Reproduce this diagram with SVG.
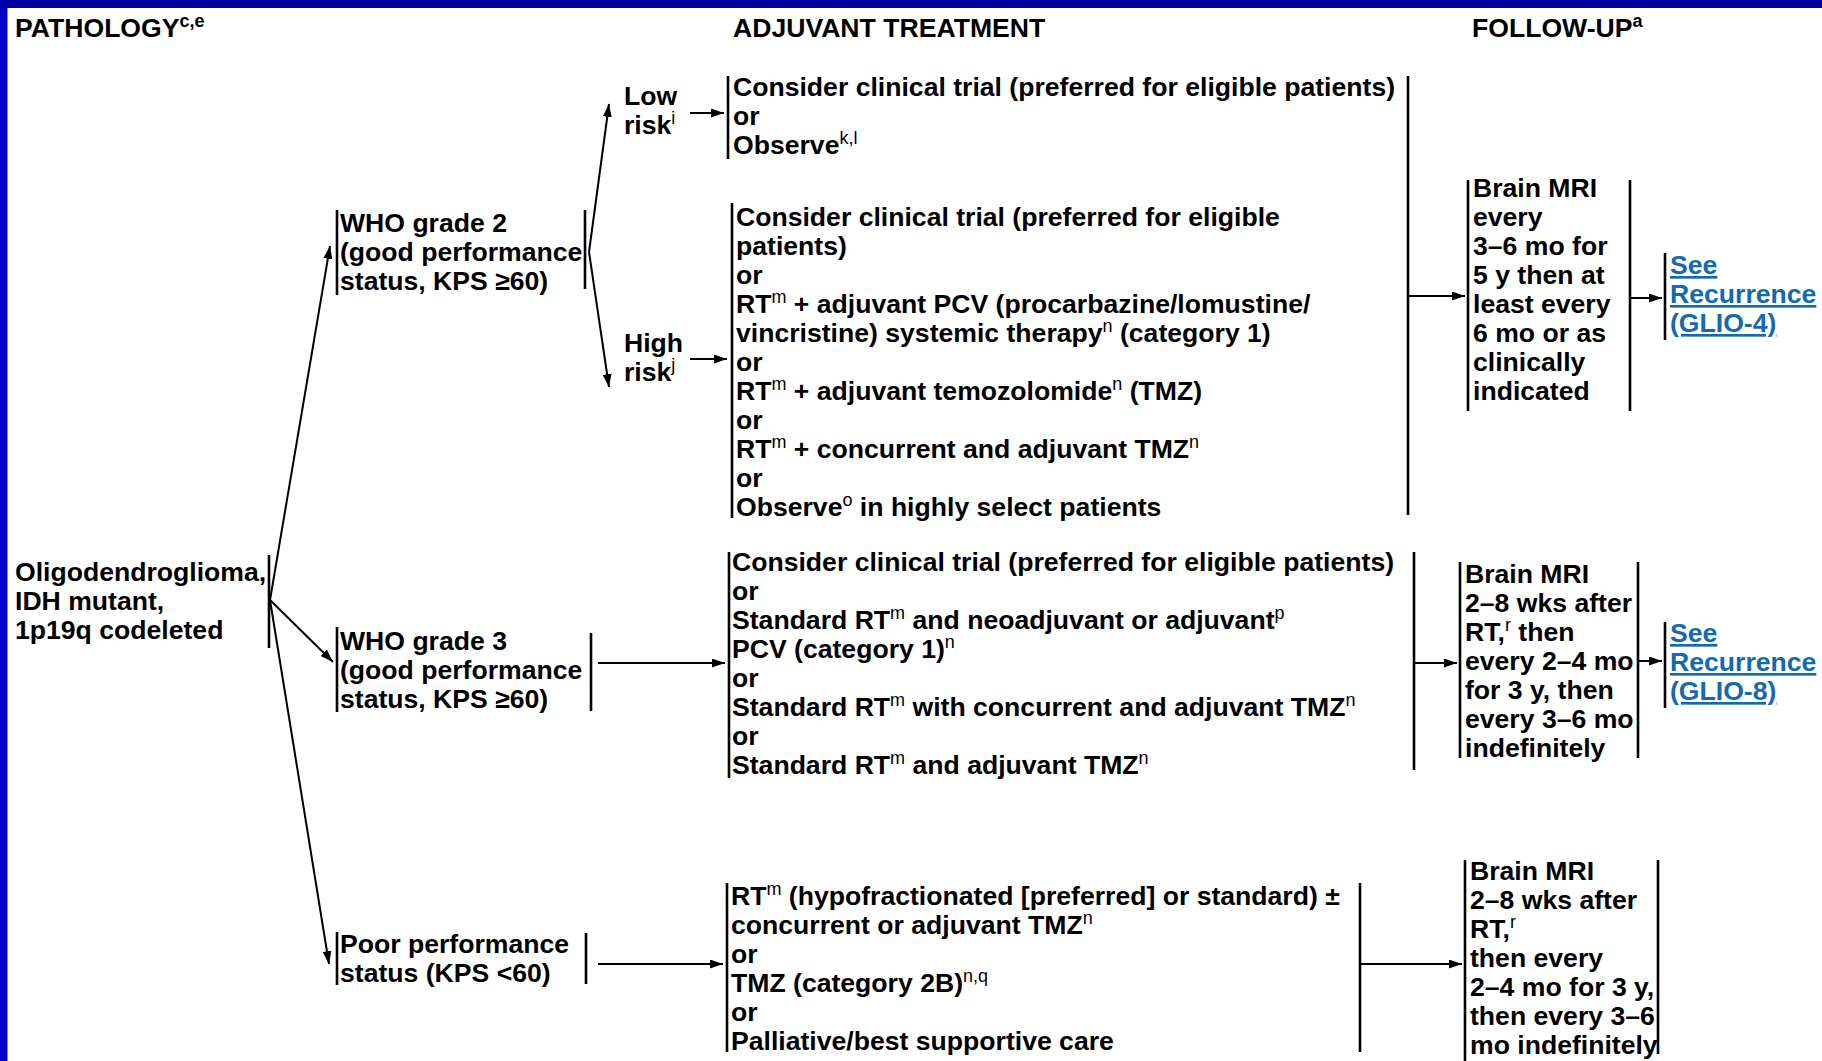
<svg xmlns="http://www.w3.org/2000/svg" width="1822" height="1061" viewBox="0 0 1822 1061">
  <defs>
    <marker id="ah" viewBox="0 0 13 9" refX="13" refY="4.5" markerWidth="13" markerHeight="9" markerUnits="userSpaceOnUse" orient="auto">
      <path d="M0,0 L13,4.5 L0,9 z" fill="#000"/>
    </marker>
    <style>
      text { font-family: "Liberation Sans", Arial, Helvetica, sans-serif; font-weight: bold; font-size: 26.6px; fill: #000; }
      .s { font-size: 18px; font-weight: normal; }
      .sb { font-size: 18px; font-weight: bold; }
      .lk { fill: #1569B0; text-decoration: underline; }
      .bar { stroke: #000; stroke-width: 2.6; fill: none; }
      .cn { stroke: #000; stroke-width: 2; fill: none; marker-end: url(#ah); }
    </style>
  </defs>

  <!-- page and frame -->
  <rect x="0" y="0" width="1822" height="1061" fill="#fff"/>
  <rect x="0" y="0" width="7.5" height="1061" fill="#0000CC"/>
  <rect x="0" y="0" width="1822" height="8" fill="#0000A0"/>

  <!-- column headings -->
  <g id="headings">
    <text x="15" y="37">PATHOLOGY<tspan class="sb" dy="-10">c,e</tspan></text>
    <text x="733" y="37">ADJUVANT TREATMENT</text>
    <text x="1472" y="37">FOLLOW-UP<tspan class="sb" dy="-10">a</tspan></text>
  </g>

  <!-- connectors -->
  <g id="connectors">
    <line class="cn" x1="270" y1="600" x2="330" y2="246"/>
    <line class="cn" x1="270" y1="600" x2="333" y2="662"/>
    <line class="cn" x1="270" y1="600" x2="329" y2="964"/>
    <line class="cn" x1="589" y1="252" x2="609" y2="104"/>
    <line class="cn" x1="589" y1="252" x2="609" y2="387"/>
    <line class="cn" x1="690" y1="113" x2="724" y2="113"/>
    <line class="cn" x1="690" y1="359" x2="727" y2="359"/>
    <line class="cn" x1="598" y1="663" x2="725" y2="663"/>
    <line class="cn" x1="598" y1="964" x2="723" y2="964"/>
    <line class="cn" x1="1408" y1="296" x2="1465" y2="296"/>
    <line class="cn" x1="1630" y1="298" x2="1662" y2="298"/>
    <line class="cn" x1="1414" y1="663" x2="1457" y2="663"/>
    <line class="cn" x1="1638" y1="661" x2="1662" y2="661"/>
    <line class="cn" x1="1360" y1="964" x2="1462" y2="964"/>
  </g>

  <!-- pathology -->
  <g id="n-oligo">
    <text x="15" y="581">Oligodendroglioma,</text>
    <text x="15" y="610">IDH mutant,</text>
    <text x="15" y="639">1p19q codeleted</text>
    <line class="bar" x1="269" y1="555" x2="269" y2="648"/>
  </g>

  <g id="n-who2">
    <line class="bar" x1="337" y1="210" x2="337" y2="295"/>
    <text x="340" y="232">WHO grade 2</text>
    <text x="340" y="261">(good performance</text>
    <text x="340" y="290">status, KPS ≥60)</text>
    <line class="bar" x1="585" y1="210" x2="585" y2="289"/>
  </g>

  <g id="n-low">
    <text x="624" y="105">Low</text>
    <text x="624" y="134">risk<tspan class="s" dy="-10">i</tspan></text>
  </g>

  <g id="n-high">
    <text x="624" y="352">High</text>
    <text x="624" y="381">risk<tspan class="s" dy="-10">j</tspan></text>
  </g>

  <g id="n-who3">
    <line class="bar" x1="337" y1="627" x2="337" y2="712"/>
    <text x="340" y="650">WHO grade 3</text>
    <text x="340" y="679">(good performance</text>
    <text x="340" y="708">status, KPS ≥60)</text>
    <line class="bar" x1="591" y1="633" x2="591" y2="711"/>
  </g>

  <g id="n-poor">
    <line class="bar" x1="337" y1="932" x2="337" y2="985"/>
    <text x="340" y="953">Poor performance</text>
    <text x="340" y="982">status (KPS &lt;60)</text>
    <line class="bar" x1="586" y1="933" x2="586" y2="984"/>
  </g>

  <!-- adjuvant treatment -->
  <g id="n-tx-low">
    <line class="bar" x1="728" y1="76" x2="728" y2="159"/>
    <text x="733" y="96">Consider clinical trial (preferred for eligible patients)</text>
    <text x="733" y="125">or</text>
    <text x="733" y="154">Observe<tspan class="s" dy="-10">k,l</tspan></text>
  </g>

  <g id="n-tx-high">
    <line class="bar" x1="732" y1="203" x2="732" y2="518"/>
    <text x="736" y="226">Consider clinical trial (preferred for eligible</text>
    <text x="736" y="255">patients)</text>
    <text x="736" y="284">or</text>
    <text x="736" y="313">RT<tspan class="s" dy="-10">m</tspan><tspan dy="10"> + adjuvant PCV (procarbazine/lomustine/</tspan></text>
    <text x="736" y="342">vincristine) systemic therapy<tspan class="s" dy="-10">n</tspan><tspan dy="10"> (category 1)</tspan></text>
    <text x="736" y="371">or</text>
    <text x="736" y="400">RT<tspan class="s" dy="-10">m</tspan><tspan dy="10"> + adjuvant temozolomide</tspan><tspan class="s" dy="-10">n</tspan><tspan dy="10"> (TMZ)</tspan></text>
    <text x="736" y="429">or</text>
    <text x="736" y="458">RT<tspan class="s" dy="-10">m</tspan><tspan dy="10"> + concurrent and adjuvant TMZ</tspan><tspan class="s" dy="-10">n</tspan></text>
    <text x="736" y="487">or</text>
    <text x="736" y="516">Observe<tspan class="s" dy="-10">o</tspan><tspan dy="10"> in highly select patients</tspan></text>
    <line class="bar" x1="1408" y1="76" x2="1408" y2="515"/>
  </g>

  <g id="n-tx-who3">
    <line class="bar" x1="729" y1="552" x2="729" y2="778"/>
    <text x="732" y="571">Consider clinical trial (preferred for eligible patients)</text>
    <text x="732" y="600">or</text>
    <text x="732" y="629">Standard RT<tspan class="s" dy="-10">m</tspan><tspan dy="10"> and neoadjuvant or adjuvant</tspan><tspan class="s" dy="-10">p</tspan></text>
    <text x="732" y="658">PCV (category 1)<tspan class="s" dy="-10">n</tspan></text>
    <text x="732" y="687">or</text>
    <text x="732" y="716">Standard RT<tspan class="s" dy="-10">m</tspan><tspan dy="10"> with concurrent and adjuvant TMZ</tspan><tspan class="s" dy="-10">n</tspan></text>
    <text x="732" y="745">or</text>
    <text x="732" y="774">Standard RT<tspan class="s" dy="-10">m</tspan><tspan dy="10"> and adjuvant TMZ</tspan><tspan class="s" dy="-10">n</tspan></text>
    <line class="bar" x1="1414" y1="552" x2="1414" y2="770"/>
  </g>

  <g id="n-tx-poor">
    <line class="bar" x1="727" y1="883" x2="727" y2="1052"/>
    <text x="731" y="905">RT<tspan class="s" dy="-10">m</tspan><tspan dy="10"> (hypofractionated [preferred] or standard) ±</tspan></text>
    <text x="731" y="934">concurrent or adjuvant TMZ<tspan class="s" dy="-10">n</tspan></text>
    <text x="731" y="963">or</text>
    <text x="731" y="992">TMZ (category 2B)<tspan class="s" dy="-10">n,q</tspan></text>
    <text x="731" y="1021">or</text>
    <text x="731" y="1050">Palliative/best supportive care</text>
    <line class="bar" x1="1360" y1="883" x2="1360" y2="1052"/>
  </g>

  <!-- follow-up -->
  <g id="n-fu-1">
    <line class="bar" x1="1468" y1="180" x2="1468" y2="411"/>
    <text x="1473" y="197">Brain MRI</text>
    <text x="1473" y="226">every</text>
    <text x="1473" y="255">3–6 mo for</text>
    <text x="1473" y="284">5 y then at</text>
    <text x="1473" y="313">least every</text>
    <text x="1473" y="342">6 mo or as</text>
    <text x="1473" y="371">clinically</text>
    <text x="1473" y="400">indicated</text>
    <line class="bar" x1="1630" y1="180" x2="1630" y2="411"/>
  </g>

  <g id="n-recur-1">
    <line class="bar" x1="1665" y1="253" x2="1665" y2="340"/>
    <text class="lk" x="1670" y="274">See</text>
    <text class="lk" x="1670" y="303">Recurrence</text>
    <text class="lk" x="1670" y="332">(GLIO-4)</text>
  </g>

  <g id="n-fu-2">
    <line class="bar" x1="1460" y1="562" x2="1460" y2="758"/>
    <text x="1465" y="583">Brain MRI</text>
    <text x="1465" y="612">2–8 wks after</text>
    <text x="1465" y="641">RT,<tspan class="s" dy="-10">r</tspan><tspan dy="10"> then</tspan></text>
    <text x="1465" y="670">every 2–4 mo</text>
    <text x="1465" y="699">for 3 y, then</text>
    <text x="1465" y="728">every 3–6 mo</text>
    <text x="1465" y="757">indefinitely</text>
    <line class="bar" x1="1638" y1="562" x2="1638" y2="758"/>
  </g>

  <g id="n-recur-2">
    <line class="bar" x1="1665" y1="622" x2="1665" y2="708"/>
    <text class="lk" x="1670" y="642">See</text>
    <text class="lk" x="1670" y="671">Recurrence</text>
    <text class="lk" x="1670" y="700">(GLIO-8)</text>
  </g>

  <g id="n-fu-3">
    <line class="bar" x1="1465" y1="860" x2="1465" y2="1061"/>
    <text x="1470" y="880">Brain MRI</text>
    <text x="1470" y="909">2–8 wks after</text>
    <text x="1470" y="938">RT,<tspan class="s" dy="-10">r</tspan></text>
    <text x="1470" y="967">then every</text>
    <text x="1470" y="996">2–4 mo for 3 y,</text>
    <text x="1470" y="1025">then every 3–6</text>
    <text x="1470" y="1054">mo indefinitely</text>
    <line class="bar" x1="1658" y1="860" x2="1658" y2="1054"/>
  </g>
</svg>
